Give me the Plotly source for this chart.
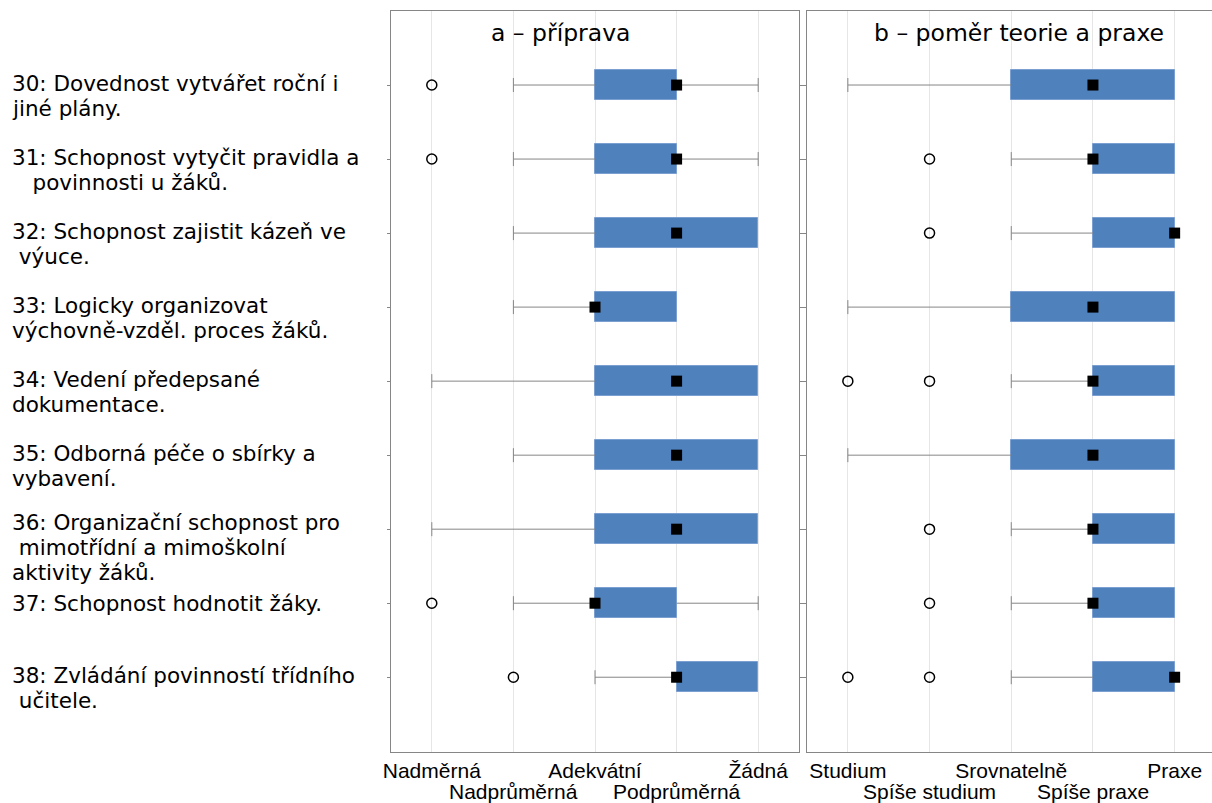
import plotly.graph_objects as go

# ---- data -------------------------------------------------------------
rows = ["30", "31", "32", "33", "34", "35", "36", "37", "38"]
row_labels = [
    ["30: Dovednost vytvářet roční i", "jiné plány."],
    ["31: Schopnost vytyčit pravidla a", "\u00a0\u00a0\u00a0povinnosti u žáků."],
    ["32: Schopnost zajistit kázeň ve", "\u00a0výuce."],
    ["33: Logicky organizovat", "výchovně-vzděl. proces žáků."],
    ["34: Vedení předepsané", "dokumentace."],
    ["35: Odborná péče o sbírky a", "vybavení."],
    ["36: Organizační schopnost pro", "\u00a0mimotřídní a mimoškolní", "aktivity žáků."],
    ["37: Schopnost hodnotit žáky."],
    ["38: Zvládání povinností třídního", "\u00a0učitele."],
]

# panel a – příprava (1 = Nadměrná ... 5 = Žádná)
a_ticks = ["Nadměrná", "Nadprůměrná", "Adekvátní", "Podprůměrná", "Žádná"]
a_wlo = [2, 2, 2, 2, 1, 2, 1, 2, 3]
a_q1 = [3, 3, 3, 3, 3, 3, 3, 3, 4]
a_med = [4, 4, 4, 3, 4, 4, 4, 3, 4]
a_q3 = [4, 4, 5, 4, 5, 5, 5, 4, 5]
a_whi = [5, 5, 5, 4, 5, 5, 5, 5, 5]
a_out = [[1], [1], [], [], [], [], [], [1], [2]]

# panel b – poměr teorie a praxe (1 = Studium ... 5 = Praxe)
b_ticks = ["Studium", "Spíše studium", "Srovnatelně", "Spíše praxe", "Praxe"]
b_wlo = [1, 3, 3, 1, 3, 1, 3, 3, 3]
b_q1 = [3, 4, 4, 3, 4, 3, 4, 4, 4]
b_med = [4, 4, 5, 4, 4, 4, 4, 4, 5]
b_q3 = [5, 5, 5, 5, 5, 5, 5, 5, 5]
b_whi = [5, 5, 5, 5, 5, 5, 5, 5, 5]
b_out = [[], [2], [2], [], [1, 2], [], [2], [2], [1, 2]]

titles = ["a – příprava", "b – poměr teorie a praxe"]

# ---- styling ----------------------------------------------------------
BOX = "#4F81BD"
GRAY = "#868686"
GRID = "#E6E6E6"
W, H = 1212, 803
ML, MR, MT, MB = 391, 0, 11, 51
PW = W - ML - MR
PH = H - MT - MB
LABEL_FONT = "DejaVu Sans"
TICK_FONT = "Liberation Sans, Arial, sans-serif"

fig = go.Figure()
ypos = list(range(len(rows)))


def add_panel(xa, ya, wlo, q1, med, q3, whi, outs):
    # IQR boxes
    fig.add_trace(go.Bar(
        y=ypos, x=[h - l for l, h in zip(q1, q3)], base=q1, orientation="h",
        width=0.405, marker=dict(color=BOX, line=dict(color="#7A9FD0", width=1)),
        xaxis=xa, yaxis=ya, showlegend=False, hoverinfo="skip"))
    # whiskers
    wx, wy, cx, cy = [], [], [], []
    for i in ypos:
        if wlo[i] < q1[i]:
            wx += [wlo[i], q1[i], None]
            wy += [i, i, None]
            cx.append(wlo[i]); cy.append(i)
        if whi[i] > q3[i]:
            wx += [q3[i], whi[i], None]
            wy += [i, i, None]
            cx.append(whi[i]); cy.append(i)
    fig.add_trace(go.Scatter(
        x=wx, y=wy, mode="lines", line=dict(color=GRAY, width=1),
        xaxis=xa, yaxis=ya, showlegend=False, hoverinfo="skip"))
    fig.add_trace(go.Scatter(
        x=cx, y=cy, mode="markers",
        marker=dict(symbol="line-ns-open", size=10, color=GRAY,
                    line=dict(color=GRAY, width=1)),
        xaxis=xa, yaxis=ya, showlegend=False, hoverinfo="skip"))
    # outliers
    ox, oy = [], []
    for i, vals in enumerate(outs):
        for v in vals:
            ox.append(v); oy.append(i)
    fig.add_trace(go.Scatter(
        x=ox, y=oy, mode="markers",
        marker=dict(symbol="circle-open", size=10, color="black",
                    line=dict(color="black", width=1.5)),
        xaxis=xa, yaxis=ya, showlegend=False, hoverinfo="skip"))
    # medians
    fig.add_trace(go.Scatter(
        x=med, y=ypos, mode="markers",
        marker=dict(symbol="square", size=11, color="black"),
        xaxis=xa, yaxis=ya, showlegend=False, hoverinfo="skip"))


add_panel("x", "y", a_wlo, a_q1, a_med, a_q3, a_whi, a_out)
add_panel("x2", "y2", b_wlo, b_q1, b_med, b_q3, b_whi, b_out)

dom_a = [0, 408 / PW]
dom_b = [416 / PW, 1]

xcommon = dict(
    tickvals=[1, 2, 3, 4, 5], showgrid=True, gridcolor=GRID, gridwidth=1,
    zeroline=False, showline=True, linecolor=GRAY, linewidth=1, mirror=True,
    ticks="", tickfont=dict(family=TICK_FONT, size=21, color="black"),
)
ycommon = dict(
    range=[9.01, -1.0], tickvals=ypos, showticklabels=False, showgrid=False,
    zeroline=False, showline=True, linecolor=GRAY, linewidth=1,
    ticks="outside", ticklen=3, tickcolor=GRAY,
)

fig.update_layout(
    width=W, height=H,
    margin=dict(l=ML, r=MR, t=MT, b=MB, pad=0),
    paper_bgcolor="white", plot_bgcolor="white",
    bargap=0,
    xaxis=dict(domain=dom_a, range=[0.5, 5.5], anchor="y",
               ticktext=[t if k % 2 == 0 else "" for k, t in enumerate(a_ticks)],
               **xcommon),
    yaxis=dict(domain=[0, 1], anchor="x", mirror="ticks", **ycommon),
    xaxis2=dict(domain=dom_b, range=[0.5, 5.5 - 3.5 / 81.65], anchor="y2",
                ticktext=[t if k % 2 == 0 else "" for k, t in enumerate(b_ticks)],
                **xcommon),
    yaxis2=dict(domain=[0, 1], anchor="x2", mirror=False, **ycommon),
    showlegend=False,
)

ann = []
# staggered second row of category labels
for xa, ticks in (("x", a_ticks), ("x2", b_ticks)):
    for k, t in enumerate(ticks):
        if k % 2 == 1:
            ann.append(dict(x=k + 1, xref=xa, y=0, yref="paper", yanchor="top",
                            yshift=-26, text=t, showarrow=False,
                            font=dict(family=TICK_FONT, size=21, color="black")))

# panel headings
ann.append(dict(x=2.58, xref="x", y=1 - 22 / PH, yref="paper", yanchor="middle",
                text=titles[0], showarrow=False,
                font=dict(family=LABEL_FONT, size=23.5, color="black")))
ann.append(dict(x=3.1, xref="x2", y=1 - 22 / PH, yref="paper", yanchor="middle",
                text=titles[1], showarrow=False,
                font=dict(family=LABEL_FONT, size=23.5, color="black")))

# item labels on the left, one annotation per text line
first_line_lift = {1: 0, 2: 1.5, 3: 7}
label_x = (10 - ML) / PW
for i, lines in enumerate(row_labels):
    lift = first_line_lift[len(lines)]
    for j, line in enumerate(lines):
        ann.append(dict(x=label_x, xref="paper", xanchor="left",
                        y=i, yref="y", yanchor="middle", yshift=lift - 25 * j,
                        text=line, showarrow=False, align="left",
                        font=dict(family=LABEL_FONT, size=21.5, color="black")))

fig.update_layout(annotations=ann)

fig.write_html("out.html")
